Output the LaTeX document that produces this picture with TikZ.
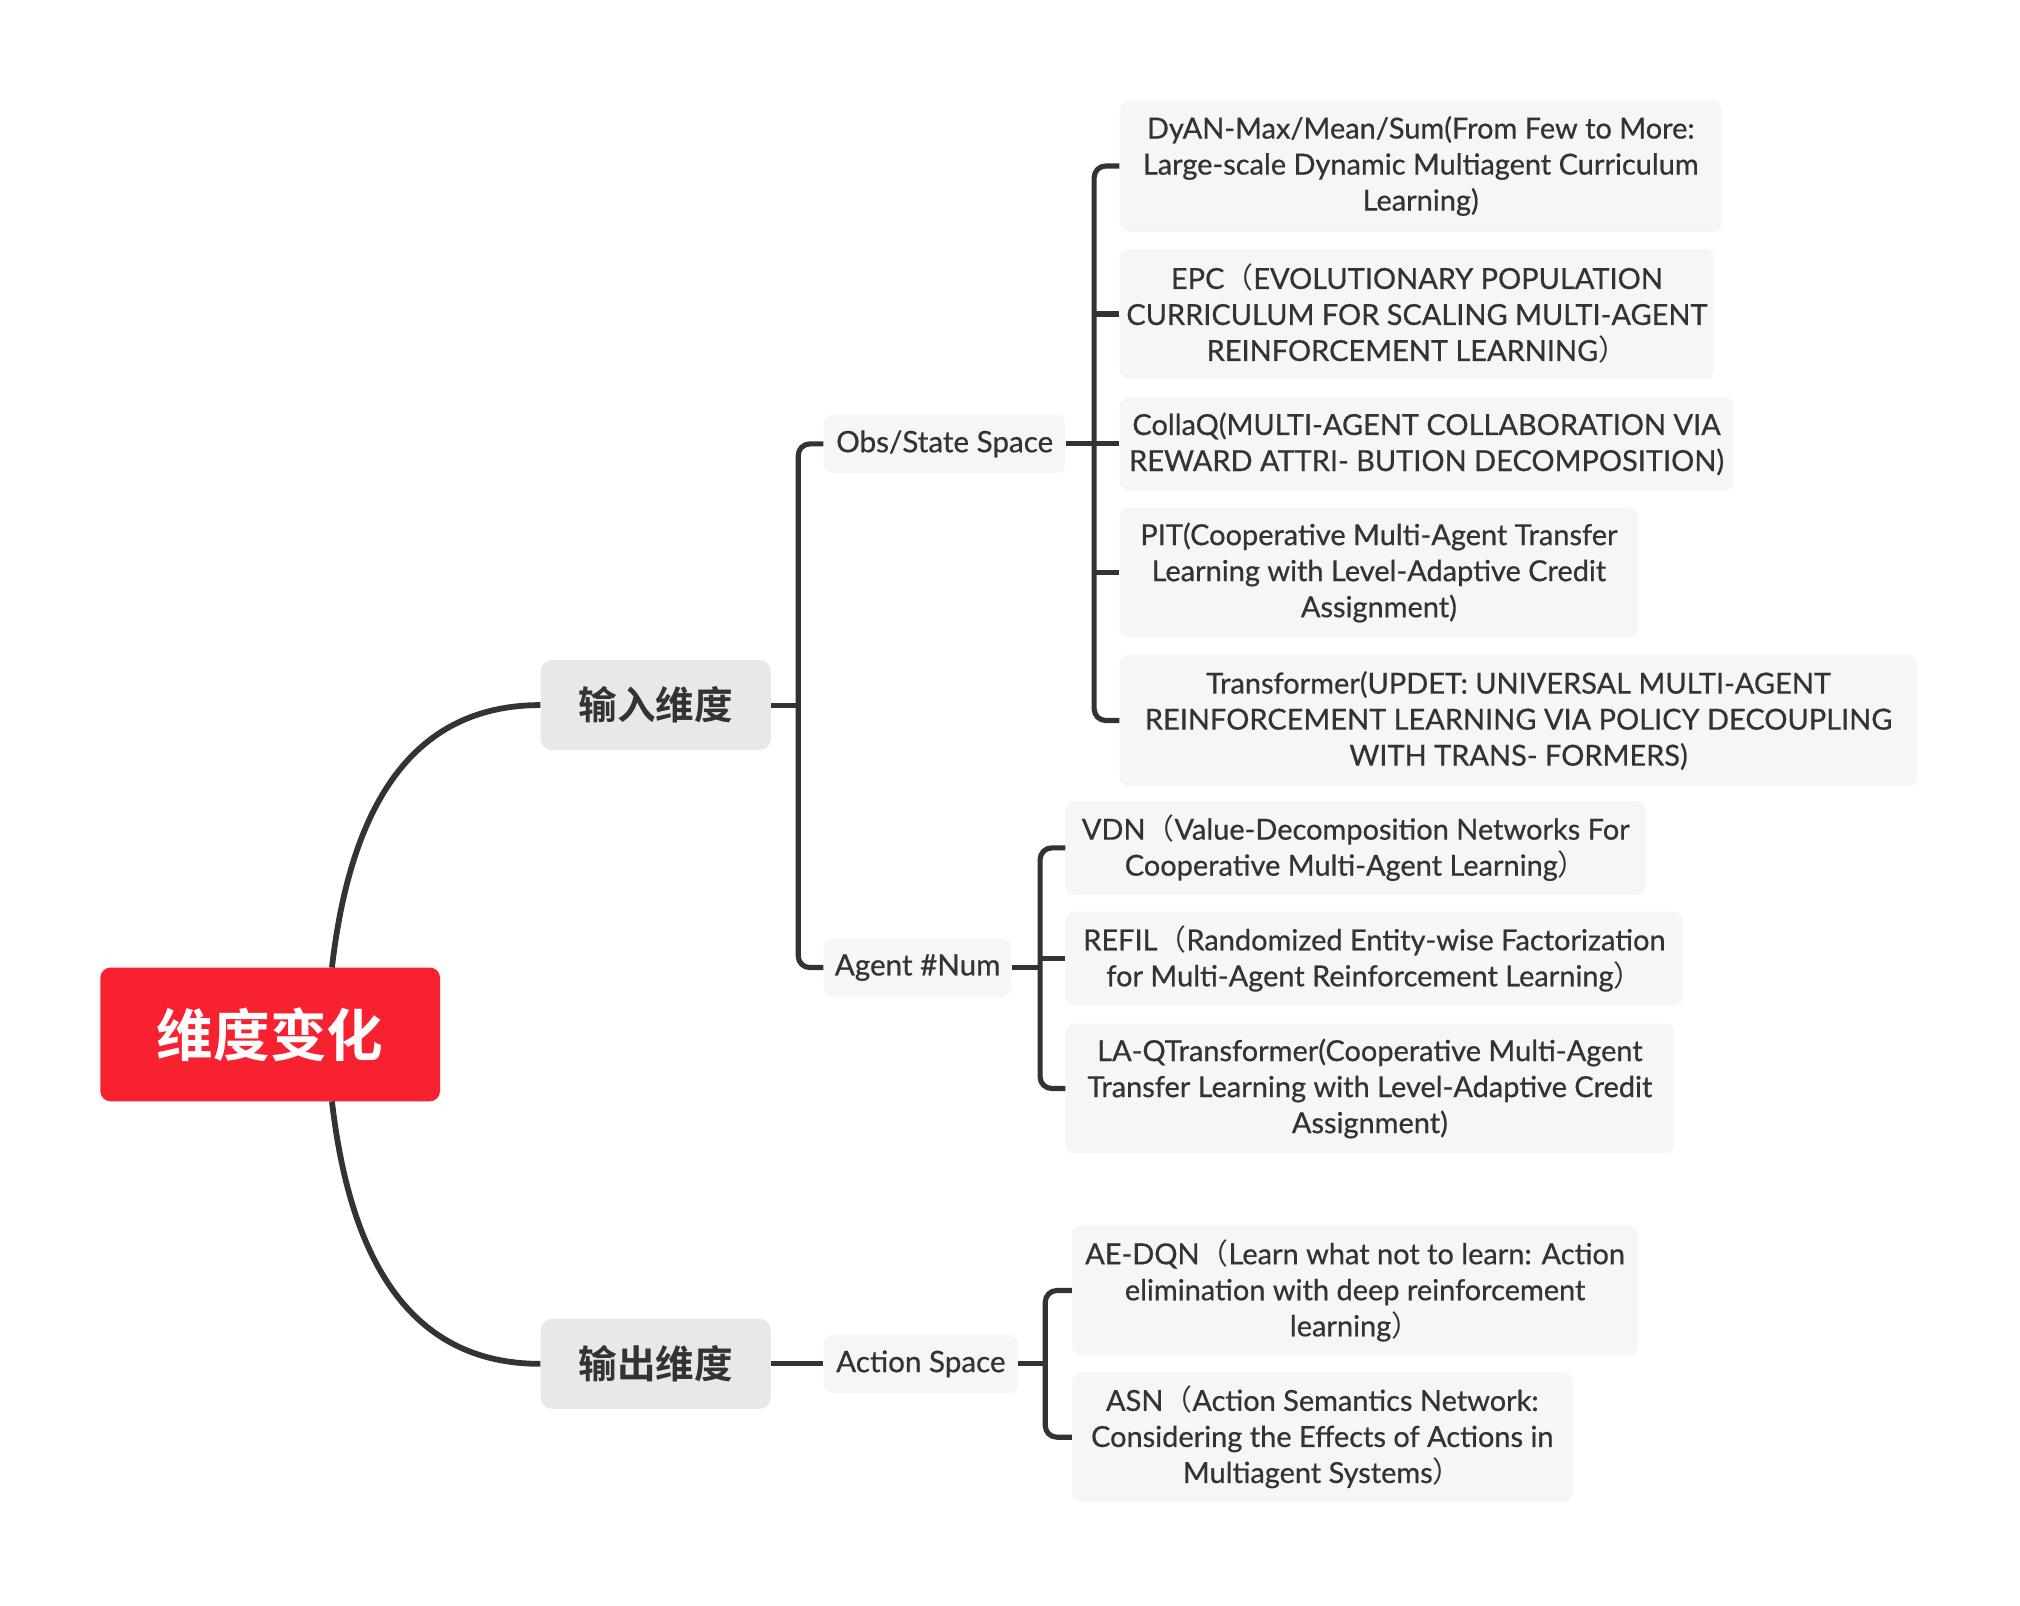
\documentclass[tikz,border=0pt]{standalone}
\usepackage{fontspec}
\setmainfont{Lato}[FakeBold=0.6]
\newfontfamily\cjk{Noto Sans CJK SC}
\newfontfamily\cjkb{Noto Sans CJK SC Bold}
\usetikzlibrary{calc}
\definecolor{ink}{HTML}{333333}
\definecolor{rootred}{HTML}{F7212F}
\definecolor{mainfill}{HTML}{E8E8E8}
\definecolor{leaffill}{HTML}{F6F6F6}
\newcommand{\lpar}{{\cjk （}}
\newcommand{\rpar}{{\cjk ）}}
\tikzset{
  rootbox/.style={rectangle, fill=rootred, rounded corners=8pt, inner sep=0pt,
    minimum width=264pt, minimum height=104pt, text=white, font=\cjkb\fontsize{44}{50}\selectfont},
  mainbox/.style={rectangle, fill=mainfill, rounded corners=9pt, inner sep=0pt, anchor=west,
    minimum width=179pt, minimum height=70pt, text=ink, font=\cjkb\fontsize{30}{36}\selectfont},
  subbox/.style={rectangle, fill=leaffill, rounded corners=7pt, inner sep=0pt, anchor=west,
    minimum height=45pt, text=ink, font=\fontsize{23}{28}\selectfont},
  leafbox/.style={rectangle, fill=leaffill, rounded corners=7pt, inner sep=0pt, anchor=west,
    align=center, text=ink, font=\fontsize{22.5}{28}\selectfont},
  conn/.style={draw=ink, line width=4pt, rounded corners=9pt},
  curve/.style={draw=ink, line width=4.5pt}
}
\begin{document}
\begin{tikzpicture}[x=1pt, y=-1pt]
\useasboundingbox (0,0) rectangle (1570,1248);
% root and main
\node[rootbox] (root) at (210,804) {维度变化};
\node[mainbox] (in) at (420,548) {输入维度};
\node[mainbox] (out) at (420,1060) {输出维度};
% sub
\node[subbox, minimum width=188pt] (obs) at (640,345) {Obs/State Space};
\node[subbox, minimum width=146pt] (agent) at (640,752) {Agent \#Num};
\node[subbox, minimum width=151pt] (act) at (640,1060) {Action Space};
% leaves of obs
\node[leafbox, minimum width=468pt, minimum height=102pt] (dyan) at (870,129)
  {DyAN-Max/Mean/Sum(From Few to More:\\Large-scale Dynamic Multiagent Curriculum\\Learning)};
\node[leafbox, minimum width=462pt, minimum height=101pt] (epc) at (870,244)
  {EPC\lpar EVOLUTIONARY POPULATION\\CURRICULUM FOR SCALING MULTI-AGENT\\REINFORCEMENT LEARNING\rpar};
\node[leafbox, minimum width=477pt, minimum height=73pt] (collaq) at (870,345)
  {CollaQ(MULTI-AGENT COLLABORATION VIA\\REWARD ATTRI- BUTION DECOMPOSITION)};
\node[leafbox, minimum width=403pt, minimum height=101pt] (pit) at (870,445)
  {PIT(Cooperative Multi-Agent Transfer\\Learning with Level-Adaptive Credit\\Assignment)};
\node[leafbox, minimum width=620pt, minimum height=102pt] (trans) at (870,560)
  {Transformer(UPDET: UNIVERSAL MULTI-AGENT\\REINFORCEMENT LEARNING VIA POLICY DECOUPLING\\WITH TRANS- FORMERS)};
% leaves of agent
\node[leafbox, minimum width=451pt, minimum height=73pt] (vdn) at (828,659)
  {VDN\lpar Value-Decomposition Networks For\\Cooperative Multi-Agent Learning\rpar};
\node[leafbox, minimum width=480pt, minimum height=73pt] (refil) at (828,745)
  {REFIL\lpar Randomized Entity-wise Factorization\\for Multi-Agent Reinforcement Learning\rpar};
\node[leafbox, minimum width=473pt, minimum height=101pt] (laq) at (828,846)
  {LA-QTransformer(Cooperative Multi-Agent\\Transfer Learning with Level-Adaptive Credit\\Assignment)};
% leaves of action
\node[leafbox, minimum width=440pt, minimum height=101pt] (aedqn) at (833,1003)
  {AE-DQN\lpar Learn what not to learn: Action\\elimination with deep reinforcement\\learning\rpar};
\node[leafbox, minimum width=389pt, minimum height=101pt] (asn) at (833,1117)
  {ASN\lpar Action Semantics Network:\\Considering the Effects of Actions in\\Multiagent Systems\rpar};
% root curves
\coordinate (rtop) at (258,752);
\coordinate (rbot) at (258,856);
\draw[curve] (rtop) .. controls (272,630) and (318,548) .. (in.west);
\draw[curve] (rbot) .. controls (272,978) and (318,1060) .. (out.west);
% in -> obs / agent
\coordinate (barI) at ($(in.east)+(21,0)$);
\draw[conn] (in.east) -- (barI);
\draw[conn] (obs.west) -| (barI) |- (agent.west);
% out -> act
\draw[conn] (out.east) -- (act.west);
% obs -> leaves
\coordinate (barO) at ($(obs.east)+(22,0)$);
\draw[conn] (obs.east) -- (barO);
\draw[conn] (dyan.west) -| (barO) |- (trans.west);
\draw[conn] (epc.west) -- (epc.west -| barO);
\draw[conn] (collaq.west) -- (collaq.west -| barO);
\draw[conn] (pit.west) -- (pit.west -| barO);
% agent -> leaves
\coordinate (barA) at ($(agent.east)+(22,0)$);
\draw[conn] (agent.east) -- (barA);
\draw[conn] (vdn.west) -| (barA) |- (laq.west);
\draw[conn] (refil.west) -- (refil.west -| barA);
% action -> leaves
\coordinate (barC) at ($(act.east)+(21,0)$);
\draw[conn] (act.east) -- (barC);
\draw[conn] (aedqn.west) -| (barC) |- (asn.west);
\end{tikzpicture}
\end{document}
